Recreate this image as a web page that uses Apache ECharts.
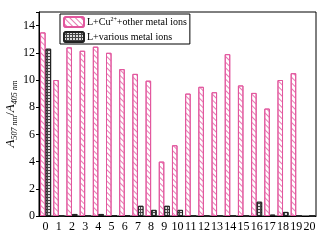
<!DOCTYPE html>
<html>
<head>
<meta charset="utf-8">
<script src="https://cdn.jsdelivr.net/npm/echarts@6/dist/echarts.min.js"></script>
<style>
  html, body { margin: 0; padding: 0; background: #fff; }
  #chart { width: 330px; height: 240px; }
</style>
</head>
<body>
<div id="chart"></div>
<script>
// ion index on the x axis
const categories = ["0", "1", "2", "3", "4", "5", "6", "7", "8", "9", "10",
  "11", "12", "13", "14", "15", "16", "17", "18", "19", "20"];
// L + Cu2+ + other metal ions
const cuOther = [13.5, 10.0, 12.4, 12.15, 12.45, 12.0, 10.8, 10.45, 9.95, 4.0, 5.2,
  9.0, 9.5, 9.1, 11.9, 9.6, 9.05, 7.9, 10.0, 10.5, null];
// L + various metal ions
const various = [12.3, 0, 0.15, 0, 0.15, 0.05, 0.05, 0.75, 0.45, 0.75, 0.45,
  0, 0, 0, 0, 0, 1.05, 0.1, 0.3, 0, 0];
const yTicks = [0, 2, 4, 6, 8, 10, 12, 14];

const serif = "'Liberation Serif', 'Times New Roman', serif";
const pink = "#e2579e";

const option = {
  animation: false,
  grid: {
    left: 39, right: 14, top: 12, bottom: 24,
    outerBoundsMode: "none",
    containLabel: false,
    show: true, borderColor: "#000", borderWidth: 1
  },
  legend: {
    orient: "vertical",
    left: 60, top: 14,
    padding: [2, 3, 1, 3],
    itemWidth: 20, itemHeight: 10, itemGap: 3,
    backgroundColor: "#fff",
    borderColor: "#000", borderWidth: 1,
    formatter: name => name === "cu"
      ? "{n|L+Cu}{sup|2+}{n|+other metal ions}"
      : "{n|L+various metal ions}",
    textStyle: {
      fontFamily: serif, color: "#000", padding: [0, 0, 0, -2],
      rich: {
        n: { fontFamily: serif, fontSize: 10, color: "#000", lineHeight: 11 },
        sup: { fontFamily: serif, fontSize: 6, color: "#000", verticalAlign: "top", lineHeight: 11 }
      }
    },
    data: ["cu", "various"]
  },
  xAxis: {
    type: "category",
    data: categories,
    axisLine: { lineStyle: { color: "#000", width: 1 } },
    axisTick: { inside: true, alignWithLabel: true, length: 3, lineStyle: { color: "#000" } },
    axisLabel: { interval: 0, fontFamily: serif, fontSize: 12, color: "#000", margin: 5 }
  },
  yAxis: {
    type: "value",
    min: 0, max: 15, interval: 2,
    splitLine: { show: false },
    axisLine: { show: true, lineStyle: { color: "#000", width: 1 } },
    axisTick: { show: true, length: 3, lineStyle: { color: "#000" } },
    axisLabel: {
      fontFamily: serif, fontSize: 12, color: "#000", margin: 4,
      formatter: v => (yTicks.includes(v) ? String(v) : "")
    },
    name: "{a|A}{s|507 nm}{n|/}{a|A}{s|405 nm}",
    nameLocation: "middle",
    nameGap: 20,
    nameMoveOverlap: false,
    nameTextStyle: {
      rich: {
        a: { fontFamily: serif, fontStyle: "italic", fontSize: 13, color: "#000", lineHeight: 16 },
        n: { fontFamily: serif, fontSize: 13, color: "#000", lineHeight: 16 },
        s: { fontFamily: serif, fontStyle: "italic", fontSize: 8, color: "#000", verticalAlign: "bottom", lineHeight: 16 }
      }
    }
  },
  series: [
    {
      name: "cu",
      type: "bar",
      data: cuOther,
      barGap: "0%",
      barCategoryGap: "16%",
      itemStyle: {
        color: "#fff",
        borderColor: pink,
        borderWidth: 1,
        decal: {
          symbol: "rect",
          color: "#e77bb2",
          dashArrayX: [1, 0],
          dashArrayY: [1, 3],
          rotation: Math.PI / 4
        }
      }
    },
    {
      name: "various",
      type: "bar",
      data: various,
      itemStyle: {
        color: "#444",
        borderColor: "#222",
        borderWidth: 1,
        decal: {
          symbol: "rect",
          color: "#ddd",
          dashArrayX: [2, 1],
          dashArrayY: [2, 1],
          rotation: 0
        }
      }
    }
  ]
};

const chart = echarts.init(document.getElementById("chart"));
chart.setOption(option);
</script>
</body>
</html>
